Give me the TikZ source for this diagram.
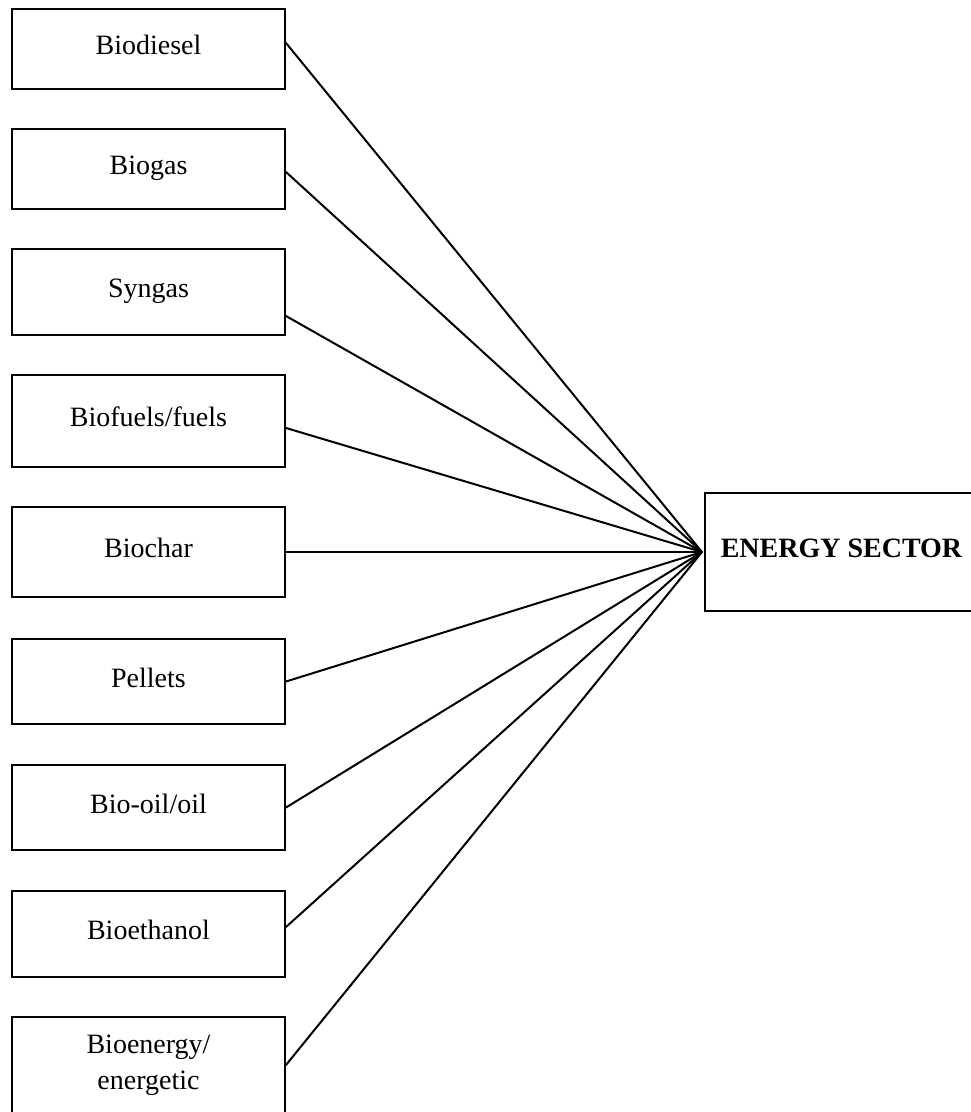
\documentclass[tikz,border=0pt]{standalone}
\usepackage{fontspec}
\setmainfont{Liberation Serif}
\usetikzlibrary{calc}
\begin{document}
\begin{tikzpicture}[x=1pt,y=1pt,
  srcbox/.style={draw=black, line width=2pt, minimum width=273pt, inner sep=0pt,
    font=\fontsize{28}{36}\selectfont, text height=18pt, text depth=7pt},
  conn/.style={line width=2pt, line cap=round}]
\useasboundingbox (0,0) rectangle (971,-1112);
\node[srcbox, minimum height=80pt] (b1) at (148.5,-49) {Biodiesel};
\node[srcbox, minimum height=80pt] (b2) at (148.5,-169) {Biogas};
\node[srcbox, minimum height=86pt] (b3) at (148.5,-292) {Syngas};
\node[srcbox, minimum height=92pt] (b4) at (148.5,-421) {Biofuels/fuels};
\node[srcbox, minimum height=90pt] (b5) at (148.5,-552) {Biochar};
\node[srcbox, minimum height=85pt] (b6) at (148.5,-681.5) {Pellets};
\node[srcbox, minimum height=85pt] (b7) at (148.5,-807.5) {Bio-oil/oil};
\node[srcbox, minimum height=86pt] (b8) at (148.5,-934) {Bioethanol};
\node[draw=black, line width=2pt, minimum width=273pt, minimum height=120pt] (b9) at (148.5,-1077) {};
\node[font=\fontsize{28}{36}\selectfont, align=center, inner sep=0pt] (t9) at (148.5,-1065) {Bioenergy/\\energetic};
\node[draw=black, line width=2pt, minimum width=273pt, minimum height=118pt, inner sep=0pt,
  font=\fontsize{28}{34}\selectfont\bfseries, text height=18pt, text depth=7pt] (es) at (841.5,-552) {ENERGY SECTOR};
\coordinate (hub) at ($(es.west)+(-2,0)$);
\draw[conn] ($(b1.east)+(0,6)$) -- (hub);
\draw[conn] ($(b2.east)+(0,-3)$) -- (hub);
\draw[conn] ($(b3.east)+(0,-24)$) -- (hub);
\draw[conn] ($(b4.east)+(0,-7)$) -- (hub);
\draw[conn] (b5.east) -- (hub);
\draw[conn] (b6.east) -- (hub);
\draw[conn] (b7.east) -- (hub);
\draw[conn] ($(b8.east)+(0,7)$) -- (hub);
\draw[conn] ($(b9.east)+(0,12)$) -- (hub);
\end{tikzpicture}
\end{document}
